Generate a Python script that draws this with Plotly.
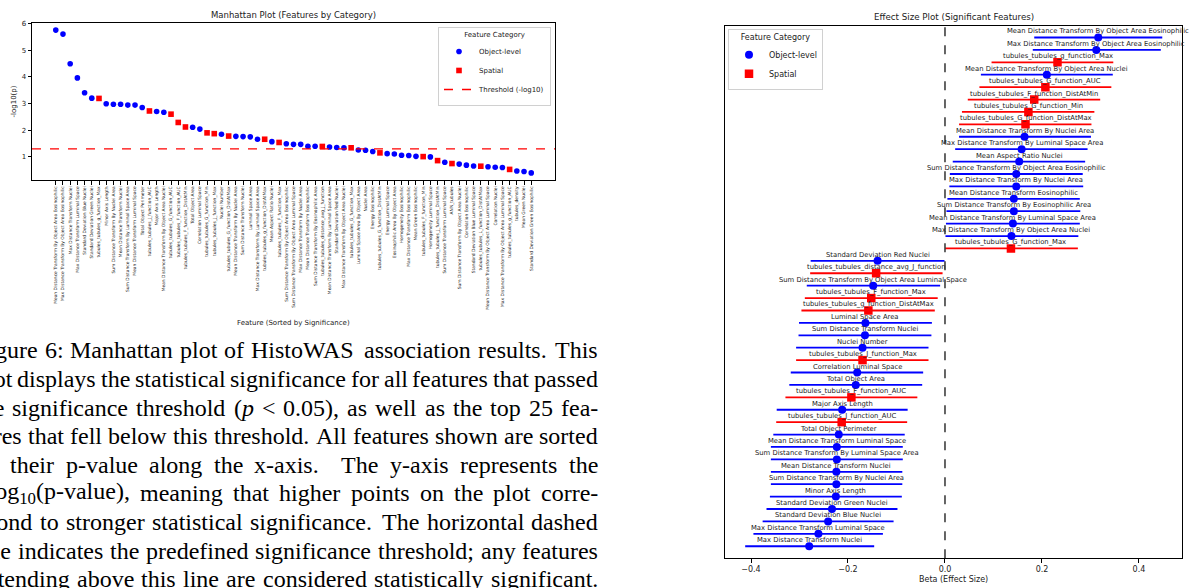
import re
import numpy as np
import plotly.graph_objects as go

W, H = 1190, 588

# ---------------- Manhattan data ----------------
man_features = [
    "Mean Distance Transform By Object Area Eosinophilic",
    "Max Distance Transform By Object Area Eosinophilic",
    "Max Distance Transform Nuclei",
    "Max Distance Transform Luminal Space",
    "Standard Deviation Blue Nuclei",
    "Standard Deviation Green Nuclei",
    "tubules_tubules_g_function_Max",
    "Minor Axis Length",
    "Sum Distance Transform By Nuclei Area",
    "Mean Distance Transform Nuclei",
    "Sum Distance Transform By Luminal Space Area",
    "Mean Distance Transform Luminal Space",
    "Total Object Perimeter",
    "tubules_tubules_J_function_AUC",
    "Major Axis Length",
    "Mean Distance Transform By Object Area Nuclei",
    "tubules_tubules_G_function_AUC",
    "tubules_tubules_F_function_AUC",
    "tubules_tubules_F_function_DistAtMin",
    "Total Object Area",
    "Correlation Luminal Space",
    "tubules_tubules_G_function_Min",
    "tubules_tubules_J_function_Max",
    "Nuclei Number",
    "tubules_tubules_G_function_DistAtMax",
    "Mean Distance Transform By Nuclei Area",
    "Sum Distance Transform Nuclei",
    "Luminal Space Area",
    "Max Distance Transform By Luminal Space Area",
    "tubules_tubules_g_function_DistAtMax",
    "Mean Aspect Ratio Nuclei",
    "tubules_tubules_F_function_Max",
    "Sum Distance Transform By Object Area Eosinophilic",
    "Sum Distance Transform By Object Area Luminal Space",
    "Max Distance Transform By Nuclei Area",
    "Mean Distance Transform Eosinophilic",
    "Sum Distance Transform By Eosinophilic Area",
    "tubules_tubules_distance_avg_J_function",
    "Mean Distance Transform By Luminal Space Area",
    "Standard Deviation Red Nuclei",
    "Max Distance Transform By Object Area Nuclei",
    "tubules_tubules_G_function_Max",
    "Luminal Space Area By Object Area",
    "Nuclei Area",
    "Energy Eosinophilic",
    "tubules_tubules_G_function_DistAtMin",
    "Energy Luminal Space",
    "Eosinophilic Area By Object Area",
    "Homogeneity Eosinophilic",
    "Max Distance Transform Eosinophilic",
    "Mean Green Eosinophilic",
    "tubules_tubules_F_function_Min",
    "Homogeneity Luminal Space",
    "tubules_tubules_J_function_DistAtMin",
    "Sum Distance Transform Luminal Space",
    "ANN_tubules",
    "Sum Distance Transform By Object Area Nuclei",
    "Correlation Eosinophilic",
    "Standard Deviation Blue Luminal Space",
    "tubules_tubules_L_function_DistAtMax",
    "Mean Distance Transform By Object Area Luminal Space",
    "Correlation Nuclei",
    "Max Distance Transform By Object Area Luminal Space",
    "tubules_tubules_g_function_AUC",
    "tubules_density",
    "Mean Green Nuclei",
    "Standard Deviation Green Eosinophilic",
]
man_neglog10p = [
    5.75, 5.60, 4.49, 3.96, 3.40, 3.20, 3.19, 2.99, 2.97, 2.97,
    2.94, 2.94, 2.85, 2.72, 2.70, 2.67, 2.60, 2.29, 2.12, 2.11,
    2.04, 1.90, 1.87, 1.85, 1.78, 1.77, 1.76, 1.75, 1.66, 1.66,
    1.57, 1.54, 1.49, 1.47, 1.47, 1.40, 1.40, 1.39, 1.37, 1.35,
    1.34, 1.34, 1.26, 1.25, 1.20, 1.15, 1.12, 1.11, 1.06, 1.05,
    1.02, 1.01, 1.00, 0.86, 0.80, 0.75, 0.73, 0.69, 0.66, 0.65,
    0.63, 0.61, 0.60, 0.53, 0.47, 0.45, 0.40,
]
O, S = "Object-level", "Spatial"
man_category = [
    O, O, O, O, O, O, S, O, O, O,
    O, O, O, S, O, O, S, S, S, O,
    O, S, S, O, S, O, O, O, O, S,
    O, S, O, O, O, O, O, S, O, O,
    O, S, O, O, O, S, O, O, O, O,
    O, S, O, S, O, S, O, O, O, S,
    O, O, O, S, O, O, O,
]
p_threshold = 0.05

# ---------------- Effect size data (top to bottom) ----------------
eff_features = [
    "Mean Distance Transform By Object Area Eosinophilic",
    "Max Distance Transform By Object Area Eosinophilic",
    "tubules_tubules_g_function_Max",
    "Mean Distance Transform By Object Area Nuclei",
    "tubules_tubules_G_function_AUC",
    "tubules_tubules_F_function_DistAtMin",
    "tubules_tubules_G_function_Min",
    "tubules_tubules_G_function_DistAtMax",
    "Mean Distance Transform By Nuclei Area",
    "Max Distance Transform By Luminal Space Area",
    "Mean Aspect Ratio Nuclei",
    "Sum Distance Transform By Object Area Eosinophilic",
    "Max Distance Transform By Nuclei Area",
    "Mean Distance Transform Eosinophilic",
    "Sum Distance Transform By Eosinophilic Area",
    "Mean Distance Transform By Luminal Space Area",
    "Max Distance Transform By Object Area Nuclei",
    "tubules_tubules_G_function_Max",
    "Standard Deviation Red Nuclei",
    "tubules_tubules_distance_avg_J_function",
    "Sum Distance Transform By Object Area Luminal Space",
    "tubules_tubules_F_function_Max",
    "tubules_tubules_g_function_DistAtMax",
    "Luminal Space Area",
    "Sum Distance Transform Nuclei",
    "Nuclei Number",
    "tubules_tubules_J_function_Max",
    "Correlation Luminal Space",
    "Total Object Area",
    "tubules_tubules_F_function_AUC",
    "Major Axis Length",
    "tubules_tubules_J_function_AUC",
    "Total Object Perimeter",
    "Mean Distance Transform Luminal Space",
    "Sum Distance Transform By Luminal Space Area",
    "Mean Distance Transform Nuclei",
    "Sum Distance Transform By Nuclei Area",
    "Minor Axis Length",
    "Standard Deviation Green Nuclei",
    "Standard Deviation Blue Nuclei",
    "Max Distance Transform Luminal Space",
    "Max Distance Transform Nuclei",
]
eff_beta = [
    0.316, 0.312, 0.232, 0.210, 0.207, 0.184, 0.172, 0.166, 0.164, 0.158,
    0.153, 0.147, 0.147, 0.142, 0.142, 0.140, 0.137, 0.136,
    -0.139, -0.142, -0.148, -0.152, -0.158, -0.164, -0.165, -0.170, -0.170, -0.181,
    -0.184, -0.193, -0.212, -0.213, -0.219, -0.223, -0.223, -0.224, -0.224, -0.225,
    -0.233, -0.241, -0.261, -0.280,
]
eff_ci_low = [
    0.184, 0.181, 0.096, 0.074, 0.071, 0.047, 0.035, 0.029, 0.029, 0.021,
    0.016, 0.010, 0.009, 0.005, 0.003, 0.002, 0.001, 0.001,
    -0.277, -0.278, -0.285, -0.289, -0.296, -0.301, -0.302, -0.307, -0.307, -0.318,
    -0.321, -0.329, -0.347, -0.348, -0.354, -0.359, -0.359, -0.359, -0.359, -0.361,
    -0.368, -0.376, -0.395, -0.412,
]
eff_ci_high = [
    0.448, 0.445, 0.347, 0.346, 0.343, 0.320, 0.308, 0.302, 0.301, 0.294,
    0.289, 0.284, 0.285, 0.278, 0.279, 0.278, 0.275, 0.274,
    -0.001, -0.005, -0.010, -0.015, -0.021, -0.027, -0.028, -0.034, -0.034, -0.045,
    -0.047, -0.057, -0.077, -0.078, -0.083, -0.087, -0.087, -0.088, -0.088, -0.089,
    -0.098, -0.106, -0.128, -0.146,
]
eff_category = [
    O, O, S, O, S, S, S, S, O, O,
    O, O, O, O, O, O, O, S,
    O, S, O, S, S, O, O, O, S, O,
    O, S, O, S, O, O, O, O, O, O,
    O, O, O, O,
]

caption_lines = [
    "Figure 6: Manhattan plot of HistoWAS association results. This",
    "plot displays the statistical significance for all features that passed",
    "the significance threshold (<i>p</i> < 0.05), as well as the top 25 fea-",
    "tures that fell below this threshold. All features shown are sorted",
    "by their p-value along the x-axis. The y-axis represents the",
    "\u2212log<sub>10</sub>(p-value), meaning that higher points on the plot corre-",
    "spond to stronger statistical significance. The horizontal dashed",
    "line indicates the predefined significance threshold; any features",
    "extending above this line are considered statistically significant.",
]

BLUE, RED = "#0000ff", "#ff0000"
FONT = "DejaVu Sans"
SERIF = "Liberation Serif"
CAP_SIZE = 24.0
CAP_LEFT, CAP_RIGHT = -26.0, 597.0
CAP_TOP, CAP_LEAD = 349.0, 28.8

def px(x):
    return x / W

def py(y):
    return 1 - y / H

# Times-compatible advance widths (per 1000 em) for justified caption layout
_TW = {" ": 250, "a": 444, "b": 500, "c": 444, "d": 500, "e": 444, "f": 333, "g": 500,
       "h": 500, "i": 278, "j": 278, "k": 500, "l": 278, "m": 778, "n": 500, "o": 500,
       "p": 500, "q": 500, "r": 333, "s": 389, "t": 278, "u": 500, "v": 500, "w": 722,
       "x": 500, "y": 500, "z": 444, "A": 722, "B": 667, "C": 667, "D": 722, "E": 611,
       "F": 556, "G": 722, "H": 722, "I": 333, "J": 389, "K": 722, "L": 611, "M": 889,
       "N": 722, "O": 722, "P": 556, "Q": 722, "R": 667, "S": 556, "T": 611, "U": 722,
       "V": 722, "W": 944, "X": 722, "Y": 722, "Z": 611, ".": 250, ",": 250, ":": 278,
       ";": 278, "-": 333, "(": 333, ")": 333, "<": 564, "\u2212": 564}
for _d in "0123456789":
    _TW[_d] = 500

def word_width(word):
    total, scale = 0.0, 1.0
    for tok in re.split(r"(<[^>]+>)", word):
        if tok.startswith("<") and tok.endswith(">") and len(tok) > 1 and tok[1] in "/suib":
            if tok == "<sub>":
                scale = 0.7
            elif tok == "</sub>":
                scale = 1.0
            continue
        for ch in tok:
            total += _TW.get(ch, 500) * scale
    return total * CAP_SIZE / 1000.0

fig = go.Figure()

# ---- Manhattan traces ----
xs = np.arange(len(man_features))
for cat, color, symbol in [(O, BLUE, "circle"), (S, RED, "square")]:
    idx = [i for i, c in enumerate(man_category) if c == cat]
    fig.add_trace(go.Scatter(
        x=xs[idx], y=[man_neglog10p[i] for i in idx], mode="markers",
        marker=dict(color=color, size=5.6, symbol=symbol, line=dict(width=0)),
        name=cat, xaxis="x", yaxis="y", legend="legend", cliponaxis=False,
    ))
# x range with matplotlib-like 5% margins, derived from the data
x_pad = 0.05 * (xs[-1] - xs[0])
x_range = [xs[0] - x_pad, xs[-1] + x_pad]
thr = -np.log10(p_threshold)
fig.add_trace(go.Scatter(
    x=x_range, y=[thr, thr], mode="lines", name="Threshold (-log10)",
    line=dict(color=RED, dash="dash", width=1.3), xaxis="x", yaxis="y", legend="legend",
    hoverinfo="skip",
))

# ---- Effect size traces ----
n = len(eff_features)
ypos = list(range(n - 1, -1, -1))
for cat, color, symbol, size in [(O, BLUE, "circle", 8), (S, RED, "square", 8.5)]:
    idx = [i for i, c in enumerate(eff_category) if c == cat]
    fig.add_trace(go.Scatter(
        x=[eff_beta[i] for i in idx], y=[ypos[i] for i in idx], mode="markers",
        marker=dict(color=color, size=size, symbol=symbol, line=dict(width=0)),
        error_x=dict(type="data", symmetric=False,
                     array=[eff_ci_high[i] - eff_beta[i] for i in idx],
                     arrayminus=[eff_beta[i] - eff_ci_low[i] for i in idx],
                     color=color, thickness=1.8, width=0),
        name=cat, xaxis="x2", yaxis="y2", legend="legend2",
    ))
fig.add_shape(type="line", xref="x2", yref="y2 domain", x0=0, x1=0, y0=0, y1=1,
              line=dict(color="black", dash="dash", width=1.2))

annotations = []
for i in range(n):
    annotations.append(dict(
        x=eff_beta[i], y=ypos[i], xref="x2", yref="y2", text=eff_features[i],
        showarrow=False, yshift=6, font=dict(family=FONT, size=6.8, color="#222"),
        xanchor="center", yanchor="middle",
    ))

titles = [
    dict(x=px(293.5), y=py(12.5), text="Manhattan Plot (Features by Category)",
         font=dict(family=FONT, size=8.5, color="#222")),
    dict(x=px(14), y=py(99), text="-log10(p)", textangle=-90,
         font=dict(family=FONT, size=7, color="#222")),
    dict(x=px(293.5), y=py(322), text="Feature (Sorted by Significance)",
         font=dict(family=FONT, size=7, color="#222")),
    dict(x=px(953.5), y=py(14), text="Effect Size Plot (Significant Features)",
         font=dict(family=FONT, size=8.7, color="#222")),
    dict(x=px(953.5), y=py(579), text="Beta (Effect Size)",
         font=dict(family=FONT, size=8, color="#222")),
]
for a in titles:
    a.update(xref="paper", yref="paper", showarrow=False, xanchor="center", yanchor="middle")
annotations += titles

# ---- caption: justified lines, one text element per word ----
col_w = CAP_RIGHT - CAP_LEFT
space_w = _TW[" "] * CAP_SIZE / 1000.0
for k, line in enumerate(caption_lines):
    words = line.split(" ")
    widths = [word_width(w) for w in words]
    gaps = len(words) - 1
    weights = [3.0 if words[j].endswith(".") and words[j + 1][:1].isupper() else 1.0
               for j in range(gaps)]
    natural = sum(widths) + space_w * gaps
    extra = col_w - natural
    tot_w = sum(weights) if extra > 0 else gaps
    xcur = CAP_LEFT
    for j, w in enumerate(words):
        annotations.append(dict(
            x=px(xcur), y=py(CAP_TOP + k * CAP_LEAD), xref="paper", yref="paper", text=w,
            showarrow=False, xanchor="left", yanchor="middle", borderpad=0,
            font=dict(family=SERIF, size=CAP_SIZE, color="black"),
        ))
        if j < gaps:
            wt = weights[j] if extra > 0 else 1.0
            xcur += widths[j] + space_w + extra * wt / tot_w

axis_common = dict(showline=True, mirror=True, linecolor="black", linewidth=1,
                   showgrid=False, zeroline=False, ticks="outside", ticklen=3.5,
                   tickcolor="black", tickwidth=0.8)

fig.update_layout(
    width=W, height=H, margin=dict(l=0, r=0, t=0, b=0),
    paper_bgcolor="white", plot_bgcolor="white",
    font=dict(family=FONT, color="#222"),
    xaxis=dict(domain=[px(32), px(555)], anchor="y", range=x_range,
               tickmode="array", tickvals=list(xs), ticktext=man_features, tickangle=-90,
               tickfont=dict(size=4.4, family=FONT, color="#222"), **axis_common),
    yaxis=dict(domain=[py(178), py(20)], anchor="x", range=[0.13, 6.02],
               tickmode="array", tickvals=[1, 2, 3, 4, 5, 6],
               tickfont=dict(size=7, family=FONT, color="#222"), **axis_common),
    xaxis2=dict(domain=[px(725), px(1182)], anchor="y2", range=[-0.4536, 0.4887],
                tickmode="array", tickvals=[-0.4, -0.2, 0.0, 0.2, 0.4],
                ticktext=["\u22120.4", "\u22120.2", "0.0", "0.2", "0.4"],
                tickfont=dict(size=8, family=FONT, color="#222"), **axis_common),
    yaxis2=dict(domain=[py(558), py(22.7)], anchor="x2", range=[-0.96, n - 1 + 0.96],
                showline=True, mirror=True, linecolor="black", linewidth=1,
                showgrid=False, zeroline=False, showticklabels=False, ticks=""),
    legend=dict(x=px(551), y=py(24), xanchor="right", yanchor="top",
                bgcolor="rgba(255,255,255,0.8)", bordercolor="#d0d0d0", borderwidth=1,
                title=dict(text="Feature Category", side="top center",
                           font=dict(size=7, family=FONT)),
                font=dict(size=7, family=FONT, color="#222"), tracegroupgap=0,
                itemwidth=30),
    legend2=dict(x=px(728), y=py(26), xanchor="left", yanchor="top",
                 bgcolor="rgba(255,255,255,0.8)", bordercolor="#d0d0d0", borderwidth=1,
                 title=dict(text="Feature Category", side="top center",
                            font=dict(size=8, family=FONT)),
                 font=dict(size=8, family=FONT, color="#222"), tracegroupgap=0,
                 itemwidth=30),
    annotations=annotations,
)

fig.write_html("out.html", config={"displayModeBar": False},
               post_script="document.body.style.margin='0px';document.body.style.padding='0px';")
